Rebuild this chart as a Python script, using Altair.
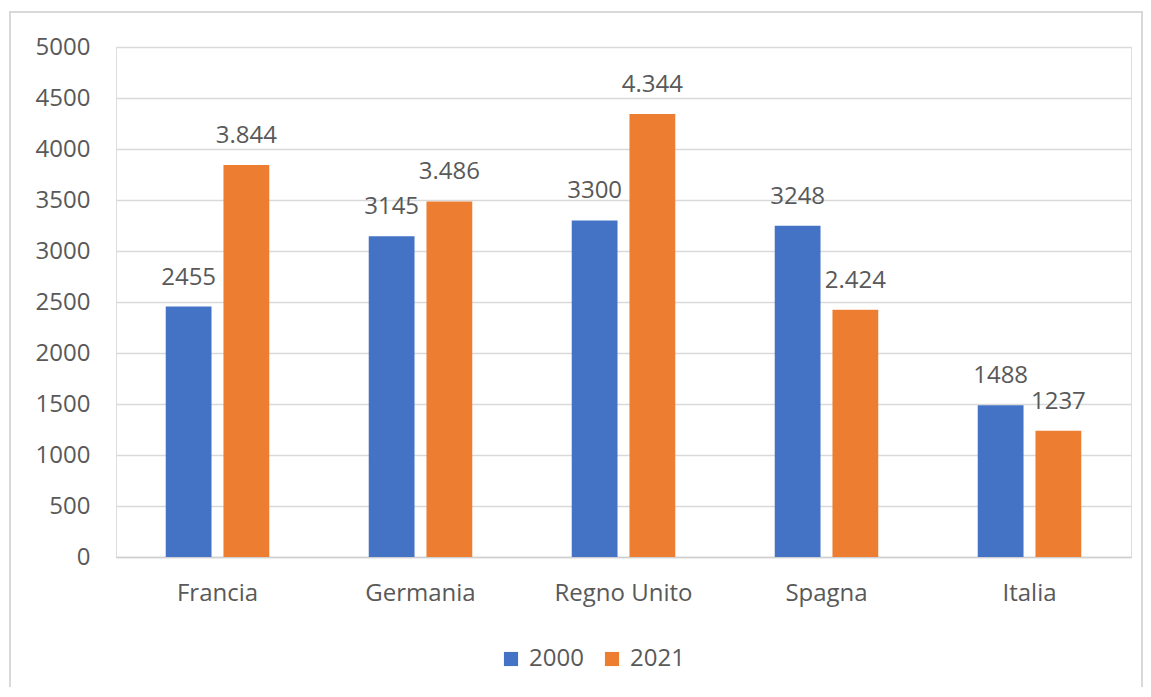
import altair as alt
import pandas as pd

paesi = ["Francia", "Germania", "Regno Unito", "Spagna", "Italia"]
anni = ["2000", "2021"]
valori_2000 = [2455, 3145, 3300, 3248, 1488]
valori_2021 = [3844, 3486, 4344, 2424, 1237]
etichette_2000 = ["2455", "3145", "3300", "3248", "1488"]
etichette_2021 = ["3.844", "3.486", "4.344", "2.424", "1237"]
colori = ["#4472C4", "#ED7D31"]

rows = []
for p, v, e in zip(paesi, valori_2000, etichette_2000):
    rows.append({"paese": p, "anno": "2000", "valore": v, "etichetta": e})
for p, v, e in zip(paesi, valori_2021, etichette_2021):
    rows.append({"paese": p, "anno": "2021", "valore": v, "etichetta": e})
df = pd.DataFrame(rows)

FONT = "Open Sans"
FS = 24
TXT = "#595959"
W, H = 1015, 510

x_enc = alt.X("paese:N", sort=paesi, title=None,
              scale=alt.Scale(paddingInner=0.49, paddingOuter=0.245),
              axis=alt.Axis(labelAngle=0, ticks=False, domainColor="#d0d0d0",
                            domainWidth=1.5, labelPadding=24, labelFontSize=FS,
                            labelColor=TXT, labelFont=FONT, grid=False))
xo_enc = alt.XOffset("anno:N", sort=anni,
                     scale=alt.Scale(paddingInner=0.207, paddingOuter=0))
y_enc = alt.Y("valore:Q", title=None,
              scale=alt.Scale(domain=[0, 5000]),
              axis=alt.Axis(values=list(range(0, 5001, 500)), format="d",
                            domain=False, ticks=False,
                            gridColor="#d9d9d9", gridWidth=1.5, labelPadding=26,
                            labelFontSize=FS, labelColor=TXT, labelFont=FONT))

border = alt.Chart(pd.DataFrame({"k": [0]})).mark_rect(
    fill="transparent", stroke="#d9d9d9", strokeWidth=2
).encode(x=alt.value(-106), x2=alt.value(1026), y=alt.value(-35), y2=alt.value(660))

bars = alt.Chart(df).mark_bar().encode(
    x=x_enc, xOffset=xo_enc, y=y_enc,
    color=alt.Color("anno:N", sort=anni, title=None,
                    scale=alt.Scale(domain=anni, range=colori),
                    legend=alt.Legend(orient="none", legendX=383, legendY=600,
                                      direction="horizontal", symbolType="square",
                                      symbolSize=200, symbolStrokeWidth=0,
                                      labelFontSize=FS, labelColor=TXT, labelFont=FONT,
                                      columnPadding=16, labelOffset=6)),
)

labels = alt.Chart(df).mark_text(
    baseline="middle", dy=-29, fontSize=FS, font=FONT, color=TXT
).encode(x=alt.X("paese:N", sort=paesi), xOffset=alt.XOffset("anno:N", sort=anni),
         y="valore:Q", text="etichetta:N")

chart = alt.layer(border, bars, labels).properties(
    width=W, height=H,
    autosize=alt.AutoSizeParams(type="none"),
    padding={"left": 108, "top": 39, "right": 12, "bottom": 130},
).configure_view(stroke=None).configure(background="white")

chart.save("out.html", embed_options={"renderer": "svg", "actions": False})
